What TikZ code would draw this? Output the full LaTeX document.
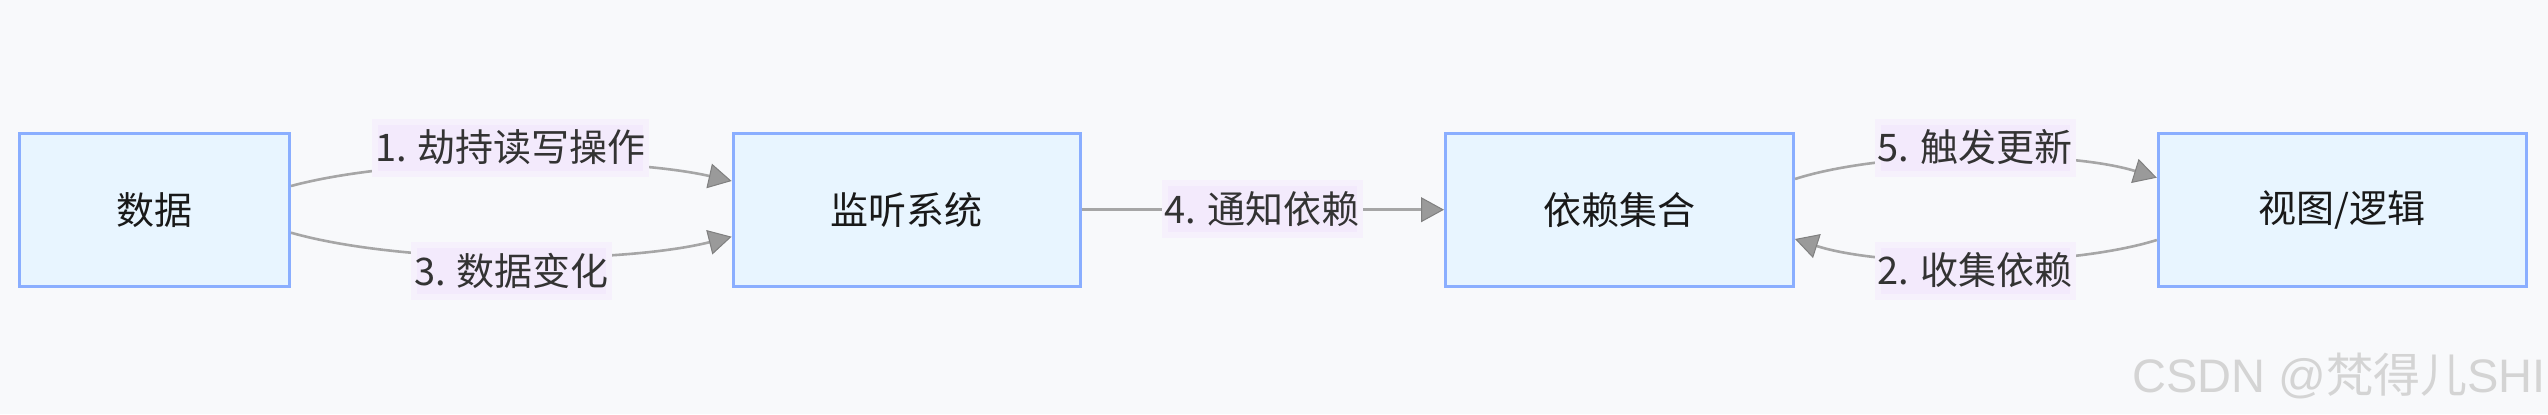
\documentclass[tikz,border=0pt]{standalone}
\usepackage{fontspec}
\setmainfont{Noto Sans CJK SC}
\newfontfamily\wmlatin{Liberation Sans}
\usetikzlibrary{arrows.meta}
\definecolor{bg}{HTML}{F8F9FB}
\definecolor{boxfill}{HTML}{E8F5FF}
\definecolor{boxline}{HTML}{8AAEFF}
\definecolor{edgecol}{HTML}{A6A6A6}
\definecolor{tipfill}{HTML}{9A9A9A}
\definecolor{tipline}{HTML}{808080}
\definecolor{lblfill}{HTML}{F3EAFC}
\definecolor{lblframe}{HTML}{F6F1FC}
\definecolor{lbltext}{HTML}{333333}
\definecolor{wm}{HTML}{D4D4D4}
\begin{document}
\begin{tikzpicture}[x=0.5pt,y=-0.5pt,
  box/.style={draw=boxline, fill=boxfill, line width=1.5pt, minimum height=76.5pt, inner sep=0pt, font=\fontsize{19}{22}\selectfont, text=black!90},
  lbl/.style={fill=lblfill, draw=lblframe, line width=3pt, minimum height=26pt, inner xsep=0pt, inner ysep=0pt, font=\fontsize{19}{22}\selectfont, text=lbltext},
  conn/.style={draw=edgecol, line width=1.3pt, -{Triangle[length=11.5pt,width=12.5pt,color=tipline,fill=tipfill,line width=0.5pt]}}]
\fill[bg] (0,0) rectangle (2548,414);
\useasboundingbox (0,0) rectangle (2548,414);

\node[box, minimum width=135pt] (A) at (154.5,209.7) {数据};
\node[box, minimum width=173.5pt] (B) at (906.6,209.7) {监听系统};
\node[box, minimum width=174pt] (C) at (1619.5,209.7) {依赖集合};
\node[box, minimum width=184pt] (D) at (2342.3,209.7) {视图/逻辑};

\draw[conn] ([yshift=11.85pt]A.east) .. controls +(55.5pt,15pt) and +(-55.5pt,12.5pt) .. ([yshift=14.35pt]B.west);
\draw[conn] ([yshift=-11.5pt]A.east) .. controls +(55.5pt,-15.85pt) and +(-55.5pt,-13.85pt) .. ([yshift=-13.5pt]B.west);
\draw[conn] (B.east) -- (C.west);
\draw[conn] ([yshift=15.35pt]C.east) .. controls +(45pt,14.5pt) and +(-45pt,13.85pt) .. ([yshift=16pt]D.west);
\draw[conn] ([yshift=-15.15pt]D.west) .. controls +(-45pt,-14pt) and +(45pt,-14.5pt) .. ([yshift=-14.65pt]C.east);

\node[lbl] (l1) at (510.5,147.5) {1. 劫持读写操作};
\node[lbl] (l3) at (511.5,270.5) {3. 数据变化};
\node[lbl] (l4) at (1262,209) {4. 通知依赖};
\node[lbl] (l5) at (1975,147.5) {5. 触发更新};
\node[lbl] (l2) at (1975,270.5) {2. 收集依赖};

\node[anchor=east, text=wm, inner sep=0pt, font=\fontsize{23.5}{26}\selectfont] (wm) at (2546,376) {\wmlatin CSDN @{\rmfamily 梵得儿}SHI};
\end{tikzpicture}
\end{document}
